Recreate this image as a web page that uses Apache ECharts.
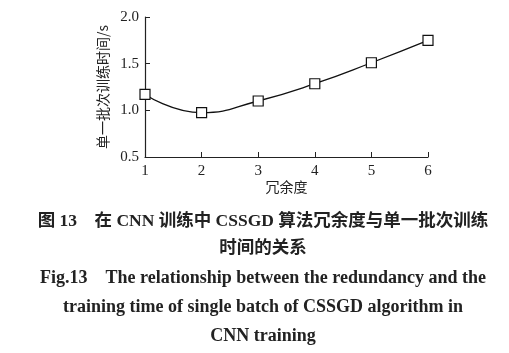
<!DOCTYPE html>
<html><head><meta charset="utf-8">
<script src="https://cdn.jsdelivr.net/npm/echarts@6/dist/echarts.min.js"></script>
<style>html,body{margin:0;padding:0;background:#fff}#c{width:509px;height:353px}</style>
</head><body><div id="c"></div>
<script>
const redundancy = [1, 2, 3, 4, 5, 6];
const batchTime = [1.17, 0.975, 1.10, 1.285, 1.51, 1.75];
const yTicks = [0.5, 1.0, 1.5, 2.0];
const xName = '冗余度';
const yName = '单一批次训练时间/s';
const captions = [
  '图 13    在 CNN 训练中 CSSGD 算法冗余度与单一批次训练',
  '时间的关系',
  'Fig.13    The relationship between the redundancy and the',
  'training time of single batch of CSSGD algorithm in',
  'CNN training'
];
const capY = [221, 248, 278, 307, 336];
const capSize = [17.5, 17.5, 18, 18, 18];

const serif = '"Liberation Serif","Noto Sans CJK SC",serif';
const chart = echarts.init(document.getElementById('c'));
chart.setOption({
  animation: false,
  backgroundColor: '#fff',
  grid: {left: 145, right: 81, top: 17, bottom: 196},
  xAxis: {
    type: 'value', min: 1, max: 6, interval: 1,
    name: xName, nameLocation: 'middle', nameGap: 22,
    nameTextStyle: {fontFamily: '"Noto Sans CJK SC"', fontSize: 14, color: '#222'},
    axisLine: {show: true, lineStyle: {color: '#222', width: 1.2}},
    axisTick: {show: true, inside: true, length: 5, lineStyle: {color: '#222'}},
    axisLabel: {fontFamily: serif, fontSize: 15, color: '#222', margin: 7},
    splitLine: {show: false}
  },
  yAxis: {
    type: 'value', min: yTicks[0], max: yTicks[yTicks.length-1], interval: 0.5,
    name: yName, nameLocation: 'middle', nameGap: 33, nameRotate: 90,
    nameTextStyle: {fontFamily: '"Noto Sans CJK SC"', fontSize: 14, color: '#222'},
    axisLine: {show: true, lineStyle: {color: '#222', width: 1.2}},
    axisTick: {show: true, inside: true, length: 5, lineStyle: {color: '#222'}},
    axisLabel: {fontFamily: serif, fontSize: 15, color: '#222', margin: 6,
      formatter: v => v.toFixed(1)},
    splitLine: {show: false}
  },
  series: [{
    type: 'line',
    data: redundancy.map((x, i) => [x, batchTime[i]]),
    smooth: 0.5,
    symbol: 'rect', symbolSize: 10,
    lineStyle: {color: '#111', width: 1.3},
    itemStyle: {color: '#fff', borderColor: '#111', borderWidth: 1.2}
  }],
  graphic: captions.map((t, i) => ({
    type: 'text', x: 263, y: capY[i],
    style: {text: t, fontFamily: serif, fontWeight: 'bold', fontSize: capSize[i], fill: '#222',
      align: 'center', verticalAlign: 'middle'}
  }))
});
</script></body></html>
